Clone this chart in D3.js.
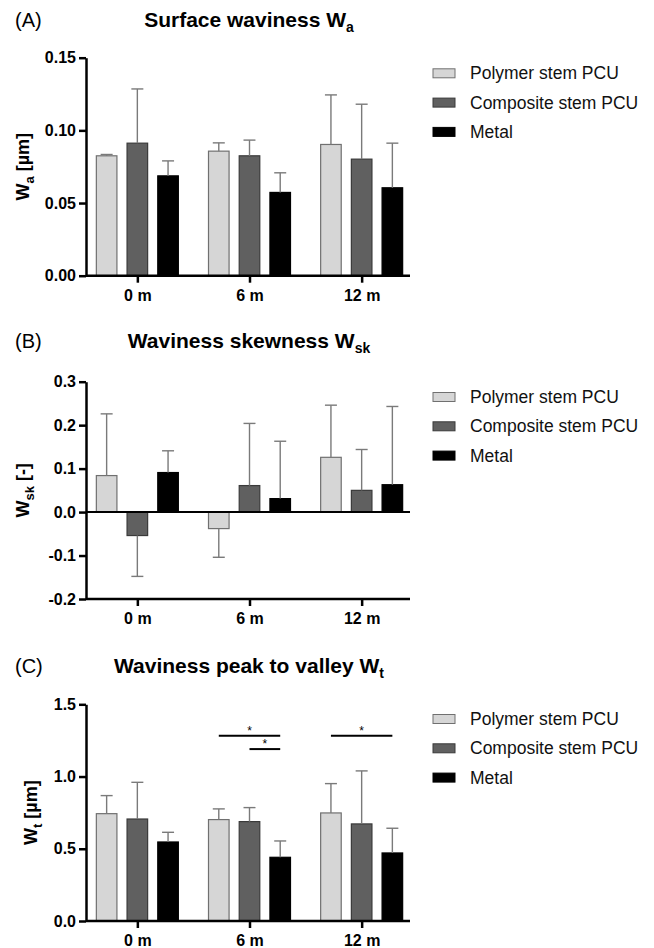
<!DOCTYPE html>
<html>
<head>
<meta charset="utf-8">
<script src="https://cdn.jsdelivr.net/npm/d3@7"></script>
<style>
body { margin: 0; background: #fff; }
text { font-family: "Liberation Sans", Arial, sans-serif; }
</style>
</head>
<body>
<div id="chart"></div>
<script>
var groups = ['0 m', '6 m', '12 m']
var series = ['Polymer stem PCU', 'Composite stem PCU', 'Metal']

// rows = series, columns = groups
var waMean = [[0.0825, 0.0857, 0.0903], [0.0912, 0.0825, 0.0802], [0.0687, 0.0573, 0.0605]]
var waSd   = [[0.0009, 0.0057, 0.0341], [0.0373, 0.0108, 0.0378], [0.0103, 0.0135, 0.0307]]
var waTicks = [0, 0.05, 0.10, 0.15]

var wskMean = [[0.084, -0.038, 0.126], [-0.054, 0.061, 0.050], [0.091, 0.031, 0.063]]
var wskSd   = [[0.142, 0.066, 0.120], [0.094, 0.143, 0.094], [0.050, 0.132, 0.180]]
var wskTicks = [-0.2, -0.1, 0, 0.1, 0.2, 0.3]

var wtMean = [[0.743, 0.702, 0.748], [0.706, 0.688, 0.672], [0.547, 0.441, 0.471]]
var wtSd   = [[0.125, 0.074, 0.203], [0.254, 0.097, 0.367], [0.067, 0.113, 0.171]]
var wtTicks = [0, 0.5, 1.0, 1.5]
// significance brackets: group, from series, to series, level
var wtSig = [['6 m', 0, 2, 1.283], ['6 m', 1, 2, 1.19], ['12 m', 0, 2, 1.283]]

var fill = ['#d6d6d6', '#606060', '#000000']
var edge = ['#707070', '#3a3a3a', '#000000']

var width = 654, height = 948
var left = 86, right = 410

var svg = d3.select('#chart')
	.append('svg')
		.attr('width', width)
		.attr('height', height)

var x0 = d3.scalePoint().domain(groups).range([left + 2, right + 1]).padding(0.44)
var x1 = d3.scaleBand().domain(d3.range(series.length)).range([-41, 41]).paddingInner(0.33)

function panel(o) {
	var g = svg.append('g')
	var y = d3.scaleLinear().domain(o.domain).range([o.bottom, o.top])
	var fmt = d3.format(o.fmt)

	// panel letter + title
	g.append('text').attr('x', 15).attr('y', o.titleY).style('font-size', '20px').text(o.letter)
	var t = g.append('text').attr('x', 249).attr('y', o.titleY).attr('text-anchor', 'middle')
		.style('font-size', '21px').style('font-weight', 'bold')
	t.append('tspan').text(o.title + ' W')
	t.append('tspan').attr('dy', 5).style('font-size', '14px').text(o.sub)

	// y label
	var yl = g.append('text')
		.attr('transform', 'translate(' + o.labelX + ',' + ((o.top + o.bottom) / 2) + ') rotate(-90)')
		.attr('text-anchor', 'middle')
		.style('font-size', '18px').style('font-weight', 'bold')
	yl.append('tspan').text('W')
	yl.append('tspan').attr('dy', 5).style('font-size', '13px').text(o.sub)
	yl.append('tspan').attr('dy', -5).text(' ' + o.unit)

	// bars
	var cells = []
	o.mean.forEach(function(row, s) {
		row.forEach(function(v, i) { cells.push({s: s, g: groups[i], v: v, sd: o.sd[s][i]}) })
	})
	var y0 = y(0)
	g.selectAll('rect.bar').data(cells).enter().append('rect')
		.attr('class', 'bar')
		.attr('x', function(d) { return x0(d.g) + x1(d.s) })
		.attr('width', x1.bandwidth())
		.attr('y', function(d) { return Math.min(y(d.v), y0) })
		.attr('height', function(d) { return Math.abs(y(d.v) - y0) })
		.attr('fill', function(d) { return fill[d.s] })
		.attr('stroke', function(d) { return edge[d.s] })
		.attr('stroke-width', 1.2)

	// error bars (one-sided, away from zero)
	var eb = g.selectAll('g.err').data(cells).enter().append('g').attr('class', 'err')
		.attr('stroke', '#7a7a7a').attr('stroke-width', 1.4)
	eb.append('line')
		.attr('x1', function(d) { return x0(d.g) + x1(d.s) + x1.bandwidth() / 2 })
		.attr('x2', function(d) { return x0(d.g) + x1(d.s) + x1.bandwidth() / 2 })
		.attr('y1', function(d) { return y(d.v) })
		.attr('y2', function(d) { return y(d.v + (d.v < 0 ? -d.sd : d.sd)) })
	eb.append('line')
		.attr('x1', function(d) { return x0(d.g) + x1(d.s) + x1.bandwidth() / 2 - 6 })
		.attr('x2', function(d) { return x0(d.g) + x1(d.s) + x1.bandwidth() / 2 + 6 })
		.attr('y1', function(d) { return y(d.v + (d.v < 0 ? -d.sd : d.sd)) })
		.attr('y2', function(d) { return y(d.v + (d.v < 0 ? -d.sd : d.sd)) })

	// zero line (for negative domains)
	if (o.domain[0] < 0) {
		g.append('line').attr('x1', left).attr('x2', right).attr('y1', y0).attr('y2', y0)
			.attr('stroke', '#000').attr('stroke-width', 2)
	}

	// axes
	var ya = g.append('g').attr('transform', 'translate(' + left + ',0)')
		.call(d3.axisLeft(y).tickValues(o.ticks)
			.tickFormat(function(d) { return fmt(d).replace('\u2212', '-') })
			.tickSize(7).tickSizeOuter(0))
	var xa = g.append('g').attr('transform', 'translate(0,' + o.bottom + ')')
		.call(d3.axisBottom(x0).tickSize(7).tickSizeOuter(0))
	xa.select('.domain').attr('d', 'M' + left + ',0H' + right)
	;[ya, xa].forEach(function(a) {
		a.selectAll('.domain, line').attr('stroke', '#000').attr('stroke-width', 2.5)
		a.selectAll('text').attr('fill', '#000').style('font-size', '16px').style('font-weight', 'bold')
			.style('font-family', '"Liberation Sans", Arial, sans-serif')
	})
	ya.selectAll('text').attr('x', -10)
	xa.selectAll('text').attr('y', 14)

	// significance
	if (o.sig) {
		o.sig.forEach(function(s) {
			var xa1 = x0(s[0]) + x1(s[1]) + x1.bandwidth() / 2
			var xb = x0(s[0]) + x1(s[2]) + x1.bandwidth() / 2
			g.append('line').attr('x1', xa1).attr('x2', xb).attr('y1', y(s[3])).attr('y2', y(s[3]))
				.attr('stroke', '#000').attr('stroke-width', 2)
			g.append('text').attr('x', (xa1 + xb) / 2).attr('y', y(s[3]) - 1)
				.attr('text-anchor', 'middle').attr('fill', '#000').style('font-size', '12px').text('*')
		})
	}

	// legend
	var lg = g.selectAll('g.leg').data(series).enter().append('g').attr('class', 'leg')
		.attr('transform', function(d, i) { return 'translate(433,' + (o.legendY + i * 29.3) + ')' })
	lg.append('rect').attr('x', 0).attr('y', -4.5).attr('width', 22).attr('height', 9)
		.attr('fill', function(d, i) { return fill[i] })
		.attr('stroke', function(d, i) { return edge[i] }).attr('stroke-width', 1)
	lg.append('text').attr('x', 37).attr('dy', '0.35em').style('font-size', '17.5px')
		.attr('fill', '#111').text(function(d) { return d })
}

panel({letter: '(A)', title: 'Surface waviness', sub: 'a', unit: '[µm]', titleY: 27,
	top: 57.7, bottom: 275.7, domain: [0, 0.15], ticks: waTicks, fmt: '.2f',
	mean: waMean, sd: waSd, labelX: 29, legendY: 73.3})

panel({letter: '(B)', title: 'Waviness skewness', sub: 'sk', unit: '[-]', titleY: 348,
	top: 381.7, bottom: 599, domain: [-0.2, 0.3], ticks: wskTicks, fmt: '.1f',
	mean: wskMean, sd: wskSd, labelX: 29, legendY: 397})

panel({letter: '(C)', title: 'Waviness peak to valley', sub: 't', unit: '[µm]', titleY: 673,
	top: 704.3, bottom: 921, domain: [0, 1.5], ticks: wtTicks, fmt: '.1f',
	mean: wtMean, sd: wtSd, sig: wtSig, labelX: 37, legendY: 719})
</script>
</body>
</html>
